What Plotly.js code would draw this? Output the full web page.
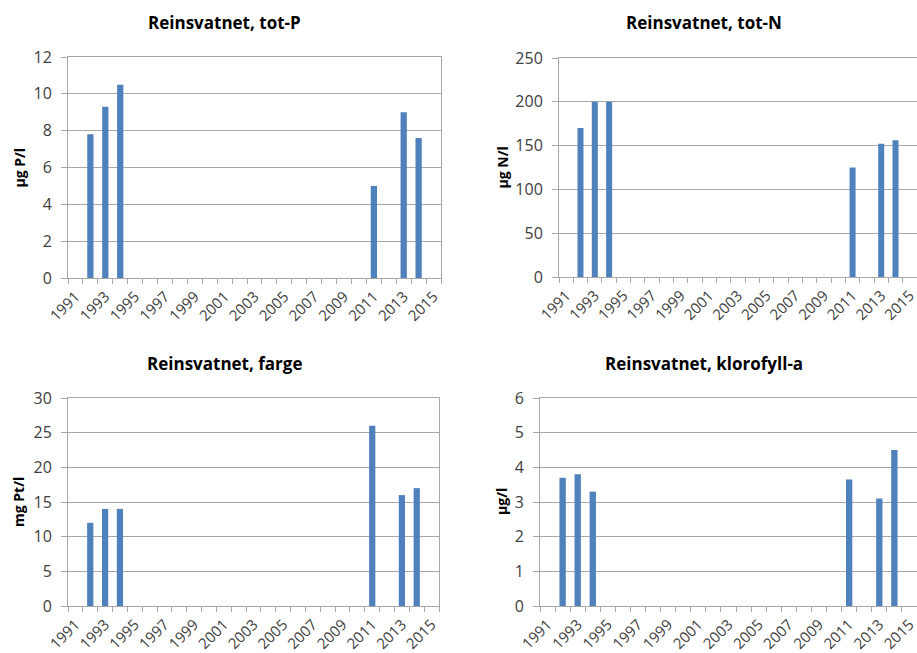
<!DOCTYPE html>
<html>
<head>
<meta charset="utf-8">
<script src="https://cdn.plot.ly/plotly-3.0.1.min.js"></script>
<style>html,body{margin:0;padding:0;background:#fff;overflow:hidden}#chart{width:917px;height:653px}</style>
</head>
<body>
<div id="chart"></div>
<script>
// Sampled years (bars)
var years = [1992, 1993, 1994, 2011, 2013, 2014];
// Series values
var totP = [7.8, 9.3, 10.5, 5.0, 9.0, 7.6];
var totN = [170, 200, 200, 125, 152, 156];
var farge = [12, 14, 14, 26, 16, 17];
var klorofyll = [3.7, 3.8, 3.3, 3.65, 3.1, 4.5];
// Axis tick labels
var tickYears = [1991, 1993, 1995, 1997, 1999, 2001, 2003, 2005, 2007, 2009, 2011, 2013, 2015];
var tickLabels = ['1991', '1993', '1995', '1997', '1999', '2001', '2003', '2005', '2007', '2009', '2011', '2013', '2015'];
// Titles
var titles = ['Reinsvatnet, tot-P', 'Reinsvatnet, tot-N', 'Reinsvatnet, farge', 'Reinsvatnet, klorofyll-a'];
var yTitles = ['µg P/l', 'µg N/l', 'mg Pt/l', 'µg/l'];
var yMax = [12, 250, 30, 6];
var yStep = [2, 50, 5, 1];

var FONT = '"Open Sans", "Liberation Sans", sans-serif';
var BAR = '#4F81BD';
var GRID = '#a8a8a8';

var series = [totP, totN, farge, klorofyll];
var W = 917, H = 653;
// plot areas in pixels: [left, right, top, bottom]
var boxes = [
  [68, 441, 57, 278],
  [559, 917, 58, 277],
  [68, 439, 398, 606],
  [540, 917, 398, 606]
];

var data = [];
var layout = {
  width: W, height: H,
  margin: {l: 0, r: 0, t: 0, b: 0},
  paper_bgcolor: '#fff', plot_bgcolor: '#fff',
  showlegend: false,
  bargap: 0.6,
  annotations: []
};

series.forEach(function (vals, i) {
  var n = i + 1;
  var xa = 'xaxis' + (n === 1 ? '' : n);
  var ya = 'yaxis' + (n === 1 ? '' : n);
  var b = boxes[i];
  data.push({
    type: 'bar',
    x: years, y: vals,
    xaxis: 'x' + (n === 1 ? '' : n), yaxis: 'y' + (n === 1 ? '' : n),
    marker: {color: BAR},
    width: 0.42,
    hoverinfo: 'x+y'
  });
  layout[xa] = {
    domain: [b[0] / W, b[1] / W],
    anchor: 'y' + (n === 1 ? '' : n),
    type: 'linear',
    range: [1990.5, 2015.5],
    tickmode: 'array', tickvals: tickYears, ticktext: tickLabels,
    tickangle: -45,
    ticks: '',
    ticklabelstandoff: 3,
    ticklabeloverflow: 'allow',
    showgrid: false, zeroline: false,
    showline: true, mirror: true, linecolor: GRID, linewidth: 1,
    tickfont: {family: FONT, size: 15, color: '#404040'},
    minor: {tickmode: 'linear', tick0: 1990.5, dtick: 1, ticks: 'outside', ticklen: 5, tickcolor: GRID, showgrid: false},
    fixedrange: true
  };
  layout[ya] = {
    domain: [1 - b[3] / H, 1 - b[2] / H],
    anchor: 'x' + (n === 1 ? '' : n),
    range: [0, yMax[i]],
    tickmode: 'linear', tick0: 0, dtick: yStep[i],
    ticks: 'outside', ticklen: 6, tickcolor: GRID,
    ticklabelstandoff: 6,
    showgrid: true, gridcolor: GRID, gridwidth: 1,
    zeroline: false,
    showline: true, mirror: true, linecolor: GRID, linewidth: 1,
    tickfont: {family: FONT, size: 16, color: '#404040'},
    fixedrange: true
  };
  layout.annotations.push({
    text: '<b>' + titles[i] + '</b>',
    xref: 'paper', yref: 'paper',
    x: (i % 2 === 0 ? 224 : 704) / W,
    y: 1 - (i < 2 ? 23 : 363) / H,
    xanchor: 'center', yanchor: 'middle', showarrow: false,
    font: {family: FONT, size: 17, color: '#000'}
  });
  layout.annotations.push({
    text: '<b>' + yTitles[i] + '</b>',
    xref: 'paper', yref: 'paper',
    x: (i % 2 === 0 ? 19 : 502) / W,
    y: 1 - ((b[2] + b[3]) / 2) / H,
    xanchor: 'center', yanchor: 'middle', showarrow: false,
    textangle: -90,
    font: {family: FONT, size: 14, color: '#000'}
  });
});

Plotly.newPlot('chart', data, layout, {displayModeBar: false, staticPlot: true});
</script>
</body>
</html>
